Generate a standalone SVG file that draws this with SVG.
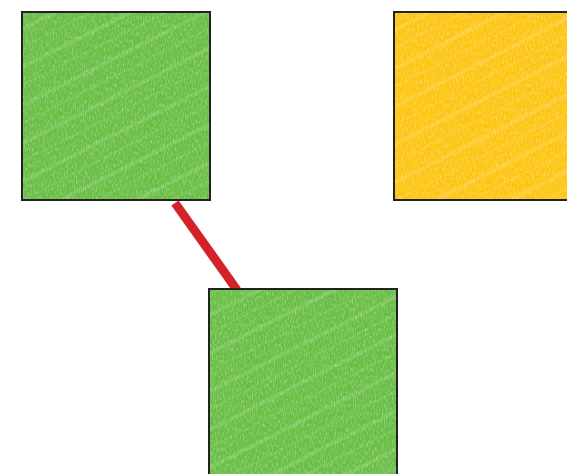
<svg xmlns="http://www.w3.org/2000/svg" width="567" height="474" viewBox="0 0 567 474">
  <style>
    .box { stroke: #222; stroke-width: 2; }
    .green { fill: #69be45; }
    .yellow { fill: #fdc513; }
    .streak { fill: url(#streaks); stroke: none; }
    .link { stroke: #d4222a; stroke-width: 9; stroke-linecap: butt; fill: none; }
  </style>
  <defs>
    <filter id="grain" x="0" y="0" width="1" height="1">
      <feTurbulence type="fractalNoise" baseFrequency="0.9 0.25" numOctaves="2" seed="3" result="n"/>
      <feColorMatrix in="n" type="matrix" values="0 0 0 0 1  0 0 0 0 1  0 0 0 0 1  0 0 0 -2.6 1.45" result="w"/>
      <feComposite in="w" in2="SourceGraphic" operator="in"/>
    </filter>
    <pattern id="streaks" width="60" height="34" patternUnits="userSpaceOnUse" patternTransform="rotate(-27)">
      <rect x="0" y="0" width="60" height="4" fill="#fff" opacity="0.12"/>
      <rect x="0" y="17" width="60" height="2" fill="#fff" opacity="0.08"/>
    </pattern>
  </defs>
  <g id="connectors">
    <line class="link" x1="175" y1="203" x2="237" y2="290"/>
  </g>
  <g id="node-green-top">
    <rect class="green" x="22" y="12" width="188" height="188"/>
    <rect class="streak" x="22" y="12" width="188" height="188"/>
    <rect x="22" y="12" width="188" height="188" fill="#fff" filter="url(#grain)" opacity="0.3"/>
    <rect class="box" x="22" y="12" width="188" height="188" fill="none"/>
  </g>
  <g id="node-yellow">
    <rect class="yellow" x="394" y="12" width="188" height="188"/>
    <rect class="streak" x="394" y="12" width="188" height="188"/>
    <rect x="394" y="12" width="188" height="188" fill="#fff" filter="url(#grain)" opacity="0.3"/>
    <rect class="box" x="394" y="12" width="188" height="188" fill="none"/>
  </g>
  <g id="node-green-bottom">
    <rect class="green" x="209" y="289" width="188" height="188"/>
    <rect class="streak" x="209" y="289" width="188" height="188"/>
    <rect x="209" y="289" width="188" height="188" fill="#fff" filter="url(#grain)" opacity="0.3"/>
    <rect class="box" x="209" y="289" width="188" height="188" fill="none"/>
  </g>
</svg>
